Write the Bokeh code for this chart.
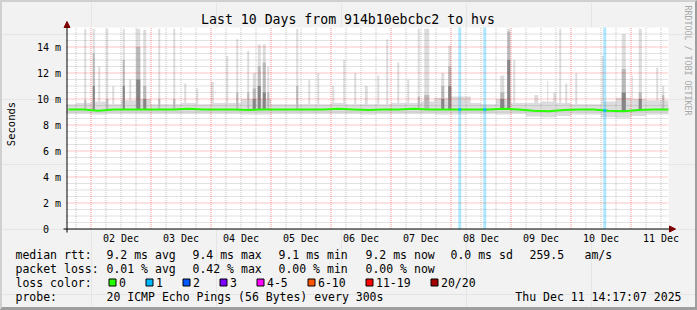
import numpy as np
from bokeh.plotting import figure
from bokeh.layouts import column
from bokeh.models import FixedTicker, LinearAxis, Arrow, NormalHead, Range1d
from bokeh.embed import file_html
from bokeh.resources import INLINE
from bokeh.core.properties import value

# ---------------- data (time = hours since 2025-12-02 00:00, values in ms) ----------------
bin_start = list(range(-12, 234, 6))          # 6-hour bins
median_ms = [9.2, 9.2, 9.1, 9.2, 9.2, 9.2, 9.2, 9.2, 9.25, 9.2,
             9.2, 9.2, 9.15, 9.2, 9.2, 9.2, 9.2, 9.2, 9.25, 9.2,
             9.15, 9.2, 9.2, 9.25, 9.2, 9.2, 9.2, 9.2, 9.2, 9.25,
             9.2, 9.1, 9.05, 9.15, 9.2, 9.2, 9.1, 9.05, 9.15, 9.2, 9.2]
smoke_lo = [8.85, 8.85, 8.8, 8.85, 8.85, 8.85, 8.85, 8.85, 8.85, 8.85,
            8.85, 8.85, 8.8, 8.8, 8.85, 8.85, 8.85, 8.85, 8.85, 8.85,
            8.8, 8.85, 8.85, 8.85, 8.85, 8.8, 8.8, 8.85, 8.85, 8.8,
            8.85, 8.65, 8.6, 8.7, 8.8, 8.8, 8.6, 8.55, 8.7, 8.8, 8.8]
smoke_hi = [9.6, 9.7, 9.8, 9.6, 9.9, 10.0, 9.6, 9.6, 9.7, 9.6,
            9.7, 9.7, 10.0, 10.0, 9.6, 9.6, 9.6, 9.6, 9.7, 9.6,
            9.6, 9.6, 9.7, 9.7, 9.8, 10.1, 10.2, 9.7, 9.6, 10.0,
            9.7, 9.7, 9.8, 9.7, 9.6, 9.6, 9.8, 10.1, 10.0, 9.9, 9.9]

spike_hour = [-2.3, 1.1, 3.3, 6.5, 8.9, 13.1, 15.7, 18.9, 21.5, 27.3,
              33.3, 37.7, 42.5, 48.5, 54.5, 58.5, 62.9, 65.3, 67.3, 69.3,
              70.9, 82.5, 87.3, 90.9, 96.9, 101.3, 105.7, 110.1, 114.9, 118.5,
              122.9, 126.9, 131.1, 134.3, 137.7, 140.7, 143.5, 150.9, 164.5, 167.1,
              169.3, 178.1, 182.7, 185.5, 187.7, 190.1, 194.1, 204.7, 213.1, 216.5,
              219.7, 226.5, 228.9]
spike_width_h = [0.8, 0.8, 0.8, 0.8, 0.8, 0.8, 0.8, 1.6, 1.2, 0.8,
                 0.8, 0.8, 0.8, 1.2, 0.8, 0.8, 0.8, 1.2, 1.2, 1.2,
                 0.8, 0.8, 0.8, 0.8, 0.8, 0.8, 0.8, 1.2, 0.8, 0.8,
                 0.8, 0.8, 0.8, 2.0, 0.8, 1.2, 1.2, 2.0, 1.6, 1.2,
                 0.8, 1.6, 0.4, 1.2, 0.8, 0.8, 0.8, 0.8, 1.6, 0.4,
                 1.2, 0.8, 0.8]
spike_max = [15.4, 15.4, 12.5, 15.4, 11.0, 15.4, 11.5, 15.4, 15.3, 15.4,
             15.4, 11.2, 10.8, 11.3, 13.3, 14.6, 13.7, 12.0, 14.2, 14.2,
             12.5, 15.4, 11.5, 12.0, 11.0, 13.0, 12.0, 11.0, 11.8, 14.6,
             12.8, 11.5, 15.4, 15.4, 10.1, 12.0, 14.1, 10.2, 11.8, 15.4,
             13.0, 10.3, 11.4, 10.5, 15.4, 11.2, 12.0, 13.3, 15.0, 11.8,
             15.4, 12.4, 11.0]
spike_mid = [9.9, 13.5, None, 10.0, None, 13.0, None, 14.0, 11.0, 10.0,
             10.0, None, None, None, None, 10.5, 10.5, 10.8, 12.5, 12.8,
             10.5, 11.0, None, None, None, None, None, None, None, None,
             None, None, 10.2, 10.3, None, 11.0, 12.5, None, 10.5, 15.2,
             None, None, None, None, None, None, None, None, 12.3, None,
             10.5, None, 10.3]
spike_low = [None, 11.0, None, None, None, 11.0, None, 11.5, 10.0, None,
             None, None, None, None, None, None, None, 10.0, 11.0, 10.5,
             None, None, None, None, None, None, None, None, None, None,
             None, None, None, None, None, 10.0, 11.0, None, 10.0, 13.0,
             None, None, None, None, None, None, None, None, 10.5, None,
             10.0, None, None]

loss_hour = [147.5, 157.5, 205.5]
loss_width_h = [1.2, 1.2, 1.2]
loss_count = [1, 1, 1]

loss_labels = ["0", "1", "2", "3", "4-5", "6-10", "11-19", "20/20"]
loss_colors = ["#26ff00", "#00b8ff", "#0059ff", "#7e00ff", "#ff00ff", "#ff5500", "#ff0000", "#a10000"]

xtick_hours = [12, 36, 60, 84, 108, 132, 156, 180, 204, 228]
xtick_labels = ["02 Dec", "03 Dec", "04 Dec", "05 Dec", "06 Dec", "07 Dec", "08 Dec", "09 Dec", "10 Dec", "11 Dec"]
ytick_ms = [0, 2, 4, 6, 8, 10, 12, 14]
ytick_labels = ["0\u00a0\u00a0", "2 m", "4 m", "6 m", "8 m", "10 m", "12 m", "14 m"]

title_text = "Last 10 Days from 914b10ebcbc2 to hvs"
ylabel_text = "Seconds"
watermark = "RRDTOOL / TOBI OETIKER"
rtt_row = ["median rtt:", "9.2 ms avg", "9.4 ms max", "9.1 ms min", "9.2 ms now", "0.0 ms sd", "259.5", "am/s"]
loss_row = ["packet loss:", "0.01 % avg", "0.42 % max", "0.00 % min", "0.00 % now"]
color_row_title = "loss color:"
probe_row = ["probe:", "20 ICMP Echo Pings (56 Bytes) every 300s"]
stamp = "Thu Dec 11 14:17:07 2025"

# ---------------- layout (canvas pixels) ----------------
FONT = "DejaVu Sans Mono"
BG = "#f2f2f2"
W, H = 697, 310
BL, BT, BR, BB = 2, 2, 2, 3
FW, FH = W - BL - BR, H - BT - BB
CH_L, CH_R, CH_T, CH_B = 66, 668, 27, 228     # chart canvas
X0 = 90.5          # canvas x of 02 Dec 00:00
Y0 = 228.5         # canvas y of 0 ms
PX_H = 2.5         # px per hour
PX_MS = 13.0       # px per ms


def hx(px):
    return (px - X0) / PX_H


def vy(py):
    return (Y0 - py) / PX_MS


p = figure(width=FW, height=FH, output_backend="svg", toolbar_location=None,
           x_range=Range1d(hx(BL), hx(W - BR)), y_range=Range1d(vy(H - BB), vy(BT)),
           x_axis_location=None, y_axis_location=None,
           min_border_left=0, min_border_right=0, min_border_top=0, min_border_bottom=0,
           background_fill_color=BG, border_fill_color=BG, outline_line_color=None)
p.extra_x_ranges = {"px": Range1d(BL, W - BR)}
p.extra_y_ranges = {"px": Range1d(H - BB, BT)}
PX = dict(x_range_name="px", y_range_name="px")

x_lo, x_hi = hx(CH_L), hx(CH_R)
y_top = vy(CH_T)

# white chart canvas
p.quad(left=[CH_L], right=[CH_R], top=[CH_T], bottom=[CH_B + 0.5], fill_color="white", line_color=None, **PX)

# base smoke band
xs = np.clip(np.array(bin_start + [bin_start[-1] + 6], dtype=float), x_lo, x_hi)
p.varea_step(x=xs, y1=smoke_lo + [smoke_lo[-1]], y2=smoke_hi + [smoke_hi[-1]],
             step_mode="after", fill_color="#dddddd")

bin_center = [b + 3 for b in bin_start]
sh = np.array(spike_hour)
sw = np.array(spike_width_h)
base_at = np.interp(sh, bin_center, median_ms)
p.quad(left=np.clip(sh - sw / 2, x_lo, x_hi), right=np.clip(sh + sw / 2, x_lo, x_hi),
       bottom=base_at, top=spike_max, fill_color="#dddddd", line_color=None)
for arr, col in ((spike_mid, "#b9b9b9"), (spike_low, "#858585")):
    idx = [i for i, v in enumerate(arr) if v is not None]
    p.quad(left=[sh[i] - sw[i] / 2 for i in idx], right=[sh[i] + sw[i] / 2 for i in idx],
           bottom=[base_at[i] for i in idx], top=[arr[i] for i in idx],
           fill_color=col, line_color=None)

# loss bars
lh = np.array(loss_hour)
lw = np.array(loss_width_h)
p.quad(left=lh - lw / 2, right=lh + lw / 2, bottom=0, top=y_top,
       fill_color=[loss_colors[c] for c in loss_count], fill_alpha=0.32, line_color=None)

# grid (minor grey, major red, dotted)
minor_x = [h for h in range(-6, 234, 6) if h % 24 != 0 and x_lo < h < x_hi]
major_x = [h for h in range(0, 234, 24)]
minor_y = [v / 2 for v in range(1, 31) if v % 4 != 0]
major_y = [v for v in range(2, 16, 2)]
p.segment(x0=minor_x, x1=minor_x, y0=0, y1=y_top, line_color="#8c8c8c", line_alpha=0.5, line_dash="1 1", line_width=1)
p.segment(x0=x_lo, x1=x_hi, y0=minor_y, y1=minor_y, line_color="#8c8c8c", line_alpha=0.5, line_dash="1 1", line_width=1)
p.segment(x0=major_x, x1=major_x, y0=0, y1=y_top, line_color="#ff0000", line_alpha=0.45, line_dash="1 1", line_width=1)
p.segment(x0=x_lo, x1=x_hi, y0=major_y, y1=major_y, line_color="#ff0000", line_alpha=0.45, line_dash="1 1", line_width=1)

# median line, coloured by loss
p.line(x=np.clip(bin_center, x_lo, x_hi), y=median_ms, line_color=loss_colors[0], line_width=2)
lm = np.interp(lh, bin_center, median_ms)
p.segment(x0=lh - lw / 2, x1=lh + lw / 2, y0=lm, y1=lm,
          line_color=[loss_colors[c] for c in loss_count], line_width=2.5)

# axes (fixed at the chart edges)
xaxis = LinearAxis(fixed_location=0, ticker=FixedTicker(ticks=xtick_hours),
                   major_label_overrides=dict(zip(xtick_hours, xtick_labels)))
yaxis = LinearAxis(fixed_location=hx(CH_L + 0.5), ticker=FixedTicker(ticks=ytick_ms),
                   major_label_overrides=dict(zip(ytick_ms, ytick_labels)))
for ax in (xaxis, yaxis):
    ax.axis_line_color = None
    ax.major_tick_line_color = None
    ax.minor_tick_line_color = None
    ax.major_tick_out = 0
    ax.major_tick_in = 0
    ax.major_label_text_font = FONT
    ax.major_label_text_font_size = "10px"
    ax.major_label_text_color = "black"
xaxis.major_label_standoff = 4
yaxis.major_label_standoff = 6
p.add_layout(xaxis, "below")
p.add_layout(yaxis, "left")

ARROW = "#7f0000"
p.add_layout(Arrow(x_start=hx(63), y_start=0, x_end=hx(675), y_end=0,
                   line_color="black", line_width=1,
                   end=NormalHead(size=6, fill_color=ARROW, line_color=ARROW)))
p.add_layout(Arrow(x_start=hx(CH_L + 0.5), y_start=vy(232), x_end=hx(CH_L + 0.5), y_end=vy(21),
                   line_color="black", line_width=1,
                   end=NormalHead(size=6, fill_color=ARROW, line_color=ARROW)))

# titles
p.text(x=[347.5], y=[19], text=[title_text], text_font=value(FONT), text_font_size="13.2px",
       text_align="center", text_baseline="middle", text_color="black", **PX)
p.text(x=[10], y=[123.5], text=[ylabel_text], text_font=value(FONT), text_font_size="10.5px",
       text_align="center", text_baseline="middle", angle=np.pi / 2, text_color="black", **PX)
p.text(x=[687], y=[60], text=[watermark], text_font=value(FONT), text_font_size="8.3px",
       text_align="center", text_baseline="middle", angle=-np.pi / 2, text_color="#a8a8a8", **PX)

# legend block
col_x = [15, 106, 192, 278, 365, 450, 529, 584]
row_y = [254, 268, 282, 296]
sw_x = [108, 145, 182, 219, 256, 307, 365, 430]
tx, ty, tt = [], [], []
for i, s in enumerate(rtt_row):
    tx.append(col_x[i]); ty.append(row_y[0]); tt.append(s)
for i, s in enumerate(loss_row):
    tx.append(col_x[i]); ty.append(row_y[1]); tt.append(s)
tx.append(col_x[0]); ty.append(row_y[2]); tt.append(color_row_title)
for i, s in enumerate(loss_labels):
    tx.append(sw_x[i] + 10.5); ty.append(row_y[2]); tt.append(s)
for i, s in enumerate(probe_row):
    tx.append(col_x[i]); ty.append(row_y[3]); tt.append(s)
p.text(x=tx, y=ty, text=tt, text_font=value(FONT), text_font_size="11.5px",
       text_baseline="middle", text_align="left", text_color="black", **PX)
p.text(x=[681], y=[row_y[3]], text=[stamp], text_font=value(FONT), text_font_size="11.5px",
       text_baseline="middle", text_align="right", text_color="black", **PX)
p.quad(left=[x + 0.5 for x in sw_x], right=[x + 7.5 for x in sw_x],
       top=[278.5] * len(sw_x), bottom=[285.5] * len(sw_x),
       fill_color=loss_colors, line_color="black", line_width=1, **PX)

page = column(p, spacing=0, styles={
    "border-left": "2px solid #d0d0d0", "border-top": "2px solid #d0d0d0",
    "border-right": "2px solid #9e9e9e", "border-bottom": "3px solid #9e9e9e",
    "background": BG})

with open("out.html", "w") as f:
    f.write(file_html(page, INLINE))
